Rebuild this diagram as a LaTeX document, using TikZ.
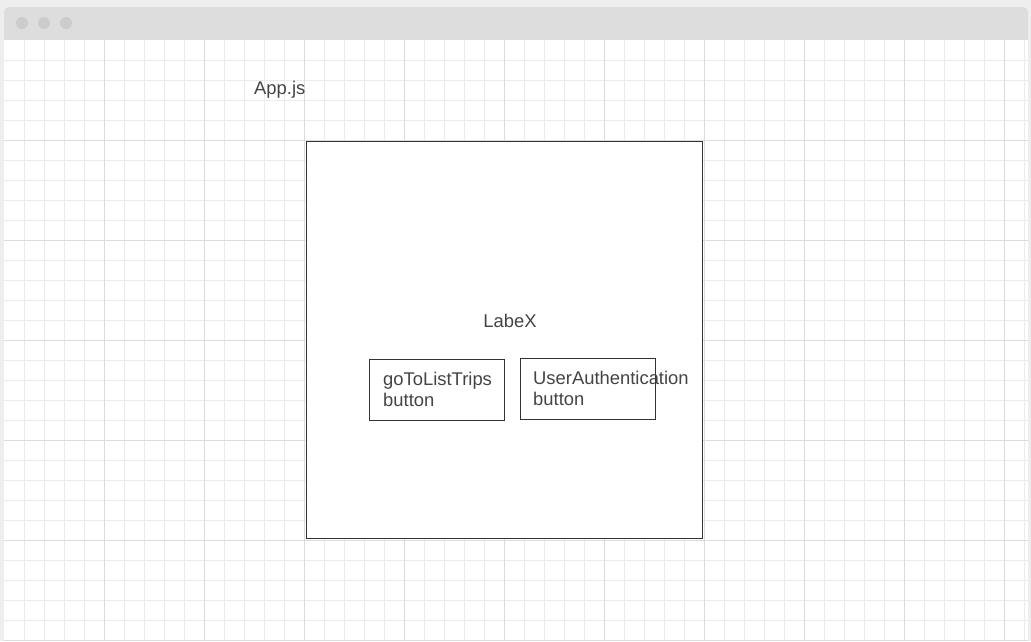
\documentclass[tikz,border=0pt]{standalone}
\usepackage{fontspec}
\setmainfont{Liberation Sans}
\definecolor{outerbg}{HTML}{EEEEEE}
\definecolor{titlebg}{HTML}{DDDDDD}
\definecolor{dotc}{HTML}{CCCCCC}
\definecolor{gridminor}{HTML}{EBEBEB}
\definecolor{gridmajor}{HTML}{DCDCDC}
\definecolor{ink}{HTML}{333333}
\definecolor{txt}{HTML}{444444}
\begin{document}
\begin{tikzpicture}[x=1pt,y=-1pt,
  minorline/.style={draw=gridminor,line width=1pt},
  majorline/.style={draw=gridmajor,line width=1pt},
  boxnode/.style={draw=ink,line width=1pt,fill=white,inner sep=0pt,minimum width=135pt,minimum height=61pt},
  framenode/.style={draw=ink,line width=1pt,fill=white,inner sep=0pt,minimum width=396pt,minimum height=397pt},
  labeltext/.style={text=txt,inner sep=0pt,font=\fontsize{18.4pt}{20.5pt}\selectfont,align=left}]
\useasboundingbox (0,0) rectangle (1031,641);
\fill[outerbg] (0,0) rectangle (1031,641);
% window
\fill[titlebg] (4,40) [rounded corners=5pt] -- (4,7) -- (1028,7) [sharp corners] -- (1028,40) -- cycle;
\fill[white] (4,40) rectangle (1028,640);
\foreach \cx in {22,44,66} \fill[dotc] (\cx,23) circle (6pt);
% grid
\foreach \gx in {24,44,...,1024} \draw[minorline] (\gx,40) -- (\gx,640);
\foreach \gy in {60,80,...,640} \draw[minorline] (4,\gy) -- (1028,\gy);
\foreach \gx in {104,204,...,1004} \draw[majorline] (\gx,40) -- (\gx,640);
\foreach \gy in {140,240,...,640} \draw[majorline] (4,\gy) -- (1028,\gy);
% content
\node[labeltext,anchor=base west] (appjs) at (254,94) {App.js};
\node[framenode] (labex) at (504.5,340) {};
\node[labeltext,anchor=base] (labextext) at (510,327) {LabeX};
\node[boxnode] (golist) at (437,390) {};
\node[boxnode] (userauth) at (588,389) {};
\node[labeltext,anchor=base west] (golisttext) at (383,406) {goToListTrips\\button};
\node[labeltext,anchor=base west] (userauthtext) at (533,405) {UserAuthentication\\button};
\end{tikzpicture}
\end{document}
